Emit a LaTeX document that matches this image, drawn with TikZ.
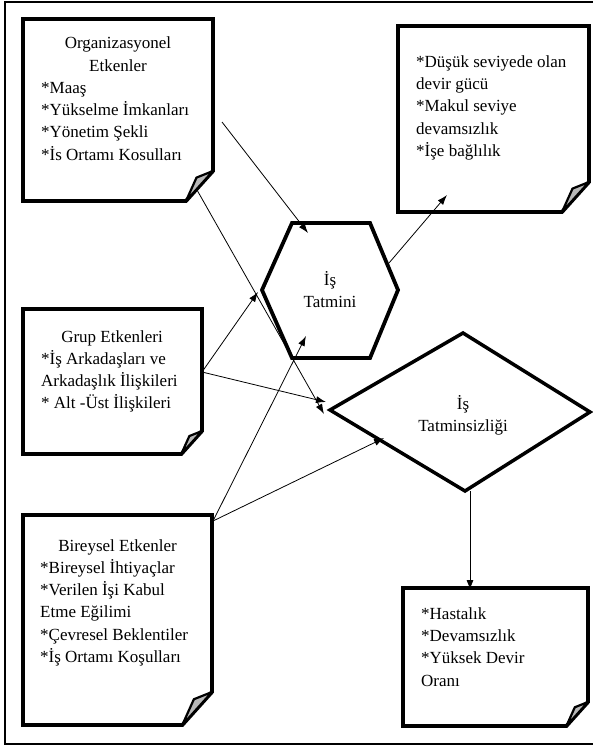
\documentclass[tikz,border=0pt]{standalone}
\usepackage{fontspec}
\setmainfont{Liberation Serif}
\usetikzlibrary{arrows.meta,calc}

\tikzset{
  frame/.style={line width=2.4pt},
  outline/.style={line width=3.8pt, line join=miter},
  flapstyle/.style={line width=2.2pt, fill=black!28, line join=round},
  arr/.style={line width=0.8pt, -{Latex[length=10pt,width=7pt]}},
  txt/.style={font=\fontsize{17}{22.4}\selectfont, inner sep=0pt},
}

% note sheet with a folded lower right corner
% #1 name, #2 left, #3 top, #4 right, #5 bottom, #6 fold size
\newcommand\notebox[6]{%
  \coordinate (#1-nw) at (#2,#3);
  \coordinate (#1-ne) at (#4,#3);
  \coordinate (#1-sw) at (#2,#5);
  \coordinate (#1-fa) at (#4,{#5-#6});
  \coordinate (#1-fc) at ({#4-0.9*#6},#5);
  \coordinate (#1-fb) at ({#4-0.55*#6},{#5-0.78*#6});
  \draw[outline] (#1-fa) -- (#1-ne) -- (#1-nw) -- (#1-sw) -- (#1-fc) -- cycle;
  \draw[flapstyle] (#1-fa) -- (#1-fb) -- (#1-fc) -- cycle;
}

\begin{document}
\begin{tikzpicture}[x=1pt,y=-1pt]
\useasboundingbox (0,0) rectangle (592,749);
\draw[frame] (5,2) rectangle (594,744);

% factor sheets
\notebox{org}{23}{19}{213}{201}{30}
\notebox{res}{398}{26}{589}{212}{30}
\notebox{grp}{23}{309}{202}{454}{23}
\notebox{ind}{23}{515}{212}{725}{33}
\notebox{neg}{403}{588}{588}{726}{24}

% texts: the base anchor of a multi-line node sits on its last line
\node[txt, align=center, anchor=base] (orgHead) at (118,71.4) {Organizasyonel\\Etkenler};
\node[txt, align=left, anchor=base west] (orgList) at (41,160.2)
  {*Maaş\\*Yükselme İmkanları\\*Yönetim Şekli\\*İs Ortamı Kosulları};

\node[txt, align=left, anchor=base west] (resList) at (416,156.6)
  {*Düşük seviyede olan\\devir gücü\\*Makul seviye\\devamsızlık\\*İşe bağlılık};

\node[txt, anchor=base] (grpHead) at (112,342) {Grup Etkenleri};
\node[txt, align=left, anchor=base west] (grpList) at (41,408.8)
  {*İş Arkadaşları ve\\Arkadaşlık İlişkileri\\* Alt -Üst İlişkileri};

\node[txt, anchor=base] (indHead) at (117.5,551) {Bireysel Etkenler};
\node[txt, align=left, anchor=base west] (indList) at (40,662.6)
  {*Bireysel İhtiyaçlar\\*Verilen İşi Kabul\\Etme Eğilimi\\*Çevresel Beklentiler\\*İş Ortamı Koşulları};

\node[txt, align=left, anchor=base west] (negList) at (421,686.2)
  {*Hastalık\\*Devamsızlık\\*Yüksek Devir\\Oranı};

% job satisfaction hexagon
\draw[outline] (292,223) -- (370,223) -- (398,290) -- (370,358) -- (292,358) -- (262,290) -- cycle;
\node[txt, align=center, anchor=base] (sat) at (330,307.4) {İş\\Tatmini};

% job dissatisfaction diamond
\draw[outline, line width=3.5pt] (463,333) -- (590,412) -- (465,491) -- (330,410) -- cycle;
\node[txt, align=center, anchor=base] (dis) at (463,431.4) {İş\\Tatminsizliği};

% connector ends
\coordinate (orgOut) at (222,122);
\coordinate (orgFold) at (197,190);
\coordinate (grpOut) at (202,372);
\coordinate (indOut) at (213,521);
\coordinate (satTop) at (308,233);
\coordinate (satLeft) at (258,292);
\coordinate (satLow) at (306,336);
\coordinate (satOut) at (389,263);
\coordinate (resIn) at (447,195);
\coordinate (disLeftA) at (326,402);
\coordinate (disLeftB) at (324,414);
\coordinate (disEdge) at (384,438);
\coordinate (disOut) at (470,491);
\coordinate (negIn) at (470,590);

\draw[arr] (orgOut) -- (satTop);
\draw[arr] (orgFold) -- (disLeftB);
\draw[arr] (grpOut) -- (satLeft);
\draw[arr] (grpOut) -- (disLeftA);
\draw[arr] (indOut) -- (satLow);
\draw[arr] (indOut) -- (disEdge);
\draw[arr] (satOut) -- (resIn);
\draw[arr] (disOut) -- (negIn);
\end{tikzpicture}
\end{document}
